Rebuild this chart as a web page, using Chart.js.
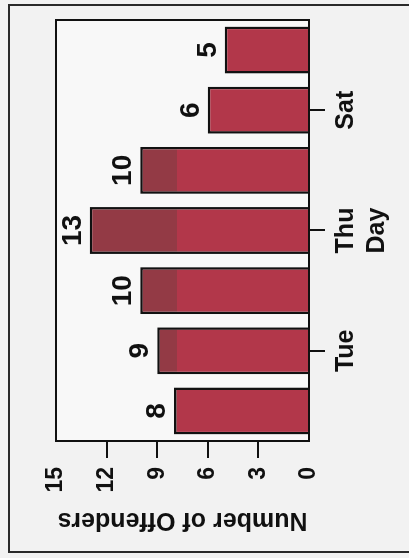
<!DOCTYPE html>
<html>
<head>
<meta charset="utf-8">
<script src="https://cdn.jsdelivr.net/npm/chart.js"></script>
<style>
  html, body { margin:0; padding:0; background:#f2f2f2; overflow:hidden; }
  /* the scanned chart is lying on its side: draw it upright, then turn it */
  #wrap { position:absolute; left:0; top:0; width:558px; height:409px;
    transform-origin:0 0; transform:translateY(558px) rotate(-90deg); }
</style>
</head>
<body>
<div id="wrap"><canvas id="c" width="558" height="409"></canvas></div>
<script>
const days = ['Mon', 'Tue', 'Wed', 'Thu', 'Fri', 'Sat', 'Sun'];
const offenders = [8, 9, 10, 13, 10, 6, 5];
const shownDays = ['Tue', 'Thu', 'Sat'];
const valueTicks = [0, 3, 6, 9, 12, 15];

const FONT = "'Liberation Sans', Arial, sans-serif";
const INK = '#111';
const DARK = '#933a45';
const LIGHT = '#b2374a';

// scan darkened the upper part of the tall bars
function barFill(c) {
  const { chart } = c;
  const area = chart.chartArea;
  if (!area) return LIGHT;
  const yb = chart.scales.y.getPixelForValue(7.8);
  const f = Math.min(1, Math.max(0, (yb - area.top) / (area.bottom - area.top)));
  const g = chart.ctx.createLinearGradient(0, area.top, 0, area.bottom);
  g.addColorStop(0, DARK);
  g.addColorStop(f, DARK);
  g.addColorStop(f, LIGHT);
  g.addColorStop(1, LIGHT);
  return g;
}

const paper = {
  id: 'paper',
  beforeDraw(chart) {
    const { ctx, chartArea: a } = chart;
    ctx.save();
    ctx.fillStyle = '#f2f2f2';
    ctx.fillRect(0, 0, chart.width, chart.height);
    ctx.fillStyle = '#f8f8f8';
    ctx.fillRect(a.left, a.top, a.right - a.left, a.bottom - a.top);
    // outer frame of the page
    ctx.strokeStyle = '#2a2a2a';
    ctx.lineWidth = 2;
    ctx.strokeRect(6, 9, 547, 440);
    ctx.restore();
  },
  afterDatasetsDraw(chart) {
    const { ctx, chartArea: a } = chart;
    ctx.save();
    ctx.strokeStyle = INK;
    ctx.lineWidth = 2;
    ctx.strokeRect(a.left, a.top, a.right - a.left, a.bottom - a.top);
    // value above each bar
    ctx.fillStyle = INK;
    ctx.font = 'bold 28px ' + FONT;
    ctx.textAlign = 'center';
    ctx.textBaseline = 'alphabetic';
    chart.getDatasetMeta(0).data.forEach((bar, i) => {
      ctx.fillText(String(offenders[i]), bar.x, bar.y - 9);
    });
    ctx.restore();
  }
};

new Chart(document.getElementById('c'), {
  type: 'bar',
  data: {
    labels: days,
    datasets: [{
      data: offenders,
      backgroundColor: barFill,
      borderColor: INK,
      borderWidth: 2.5,
      borderSkipped: 'start',
      categoryPercentage: 1,
      barPercentage: 0.78
    }]
  },
  options: {
    responsive: false,
    animation: false,
    layout: { padding: { left: 20, top: 56, right: 20, bottom: 0 } },
    plugins: { legend: { display: false }, tooltip: { enabled: false } },
    scales: {
      x: {
        grid: {
          offset: false, drawOnChartArea: false, tickLength: 16, lineWidth: 2,
          color: c => shownDays.includes(days[c.index]) ? INK : 'rgba(0,0,0,0)'
        },
        border: { display: false },
        ticks: {
          autoSkip: false, maxRotation: 0, padding: 6, color: INK,
          font: { family: FONT, size: 25, weight: 'bold' },
          callback: (v, i) => shownDays.includes(days[i]) ? days[i] : ''
        },
        title: {
          display: true, text: 'Day', color: INK,
          font: { family: FONT, size: 25, weight: 'bold' },
          padding: { top: 0, bottom: 17 }
        },
        afterFit: s => { s.height = 100; }
      },
      y: {
        min: 0, max: 15,
        afterBuildTicks: s => { s.ticks = valueTicks.map(v => ({ value: v })); },
        grid: {
          drawOnChartArea: false, tickLength: 17, lineWidth: 2,
          color: c => (c.tick && (c.tick.value === 0 || c.tick.value === 15)) ? 'rgba(0,0,0,0)' : INK
        },
        border: { display: false },
        ticks: {
          padding: 9, color: INK,
          font: { family: FONT, size: 23, weight: 'bold' }
        },
        title: {
          display: true, text: 'Number of Offenders', color: INK,
          font: { family: FONT, size: 25, weight: 'bold' },
          padding: { top: 3, bottom: 0 }
        },
        afterFit: s => { s.width = 97; }
      }
    }
  },
  plugins: [paper]
});
</script>
</body>
</html>
